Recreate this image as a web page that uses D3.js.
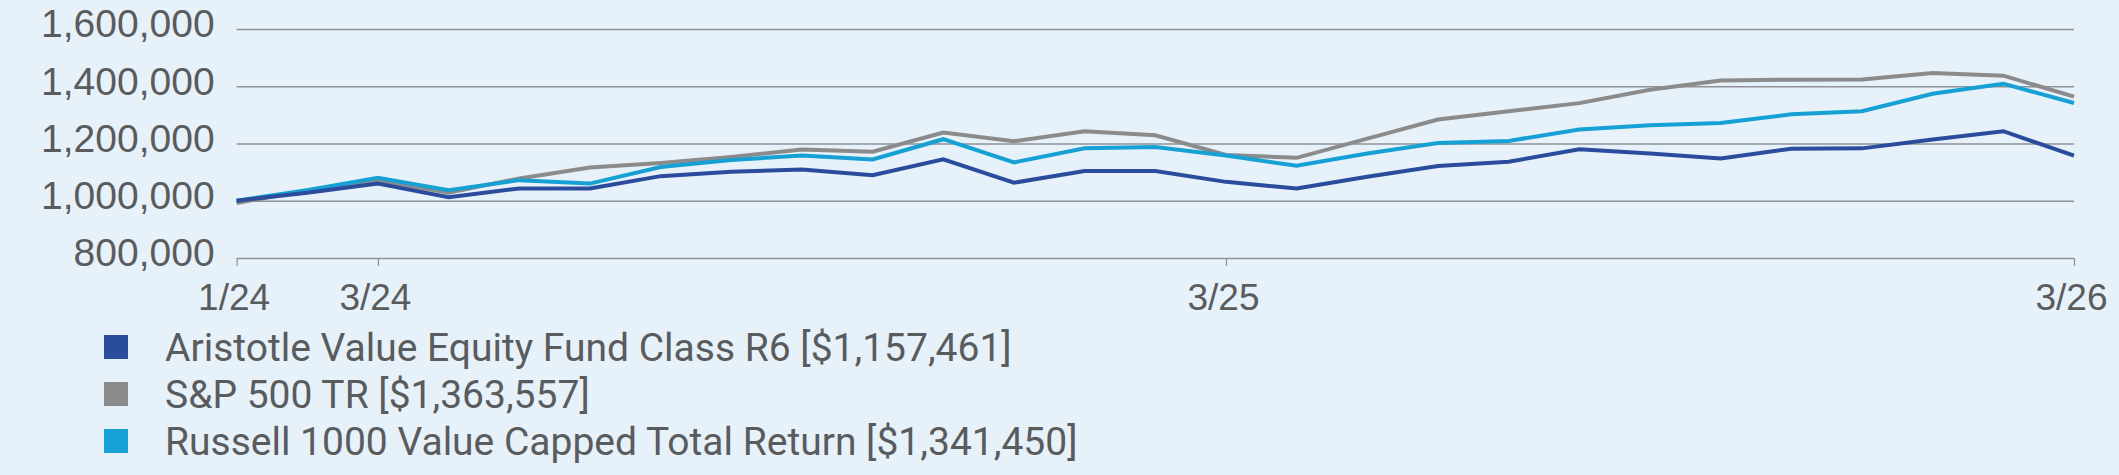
<!DOCTYPE html>
<html>
<head>
<meta charset="utf-8">
<script src="https://cdn.jsdelivr.net/npm/d3@7"></script>
<style>
  html, body { margin: 0; padding: 0; background: #e6f1fa; }
  svg { display: block; font-family: Roboto, "Liberation Sans", sans-serif; }
</style>
</head>
<body>
<svg id="chart"></svg>
<script>
// months from 1/24 to 3/26
var months = ["1/24","2/24","3/24","4/24","5/24","6/24","7/24","8/24","9/24","10/24","11/24","12/24",
  "1/25","2/25","3/25","4/25","5/25","6/25","7/25","8/25","9/25","10/25","11/25","12/25",
  "1/26","2/26","3/26"]
var tickMonths = ["1/24","3/24","3/25","3/26"]
var yTicks = [800000, 1000000, 1200000, 1400000, 1600000]

var fund = [1000000,1028000,1060000,1012000,1043000,1043000,1086000,1101000,1109000,1089000,
  1145000,1063000,1104000,1104000,1066000,1043000,1084000,1121000,1136000,1180000,
  1165000,1148000,1182000,1183000,1214000,1243000,1157461]
var sp500 = [992000,1037000,1072000,1028000,1078000,1116000,1132000,1153000,1179000,1171000,
  1238000,1208000,1243000,1229000,1160000,1150000,1217000,1284000,1313000,1341000,
  1388000,1420000,1423000,1424000,1446000,1437000,1363557]
var russell = [1000000,1037000,1080000,1037000,1072000,1060000,1118000,1142000,1158000,1144000,
  1215000,1134000,1183000,1188000,1158000,1122000,1165000,1202000,1209000,1249000,
  1264000,1272000,1302000,1313000,1374000,1409000,1341450]

var seriesNames = ["Aristotle Value Equity Fund Class R6 [$1,157,461]", "S&P 500 TR [$1,363,557]",
  "Russell 1000 Value Capped Total Return [$1,341,450]"]
var seriesColors = ["#2b4c9c", "#8b8b8b", "#16a0d3"]

var width = 2119, height = 475
var svg = d3.select("#chart").attr("width", width).attr("height", height)

var x = d3.scaleLinear().domain([0, months.length - 1]).range([236.6, 2074])
var y = d3.scaleLinear().domain([800000, 1600000]).range([258, 29])

// gridlines + y labels
var yAxis = svg.append("g")
  .attr("transform", "translate(" + x(0) + ",0)")
  .call(d3.axisLeft(y).tickValues(yTicks).tickFormat(d3.format(","))
    .tickSize(-(x(months.length - 1) - x(0))).tickPadding(22))
yAxis.select(".domain").remove()
yAxis.selectAll("line").attr("stroke", "#8e9297").attr("stroke-width", 1.5)
yAxis.selectAll("text").attr("fill", "#5a5b5d").style("font-size", "39px")
  .attr("dy", "0.2em")

// x axis ticks
var xAxis = svg.append("g")
  .attr("transform", "translate(0," + y(800000) + ")")
  .call(d3.axisBottom(x).tickValues(tickMonths.map(m => months.indexOf(m)))
    .tickFormat(i => months[i]).tickSize(8).tickPadding(18))
xAxis.select(".domain").remove()
xAxis.selectAll("line").attr("stroke", "#8e9297").attr("stroke-width", 1.2)
xAxis.selectAll("text").attr("fill", "#5a5b5d").style("font-size", "37px")
  .attr("dx", -3)

var line = d3.line().x((d, i) => x(i)).y(d => y(d))

var allSeries = [fund, sp500, russell]
// gray first, then cyan, then the fund on top
;[1, 2, 0].forEach(function (k) {
  svg.append("path")
    .datum(allSeries[k])
    .attr("fill", "none")
    .attr("stroke", seriesColors[k])
    .attr("stroke-width", 4)
    .attr("stroke-linejoin", "miter")
    .attr("d", line)
})

// legend
var legend = svg.append("g").attr("transform", "translate(104,347)")
var rows = legend.selectAll("g").data(seriesNames).enter().append("g")
  .attr("transform", (d, i) => "translate(0," + i * 47 + ")")
rows.append("rect").attr("x", 0).attr("y", -12).attr("width", 24).attr("height", 24)
  .attr("fill", (d, i) => seriesColors[i])
rows.append("text").attr("x", 61).attr("y", 14)
  .attr("fill", "#5a5b5d").style("font-size", "39px")
  .text(d => d)
</script>
</body>
</html>
